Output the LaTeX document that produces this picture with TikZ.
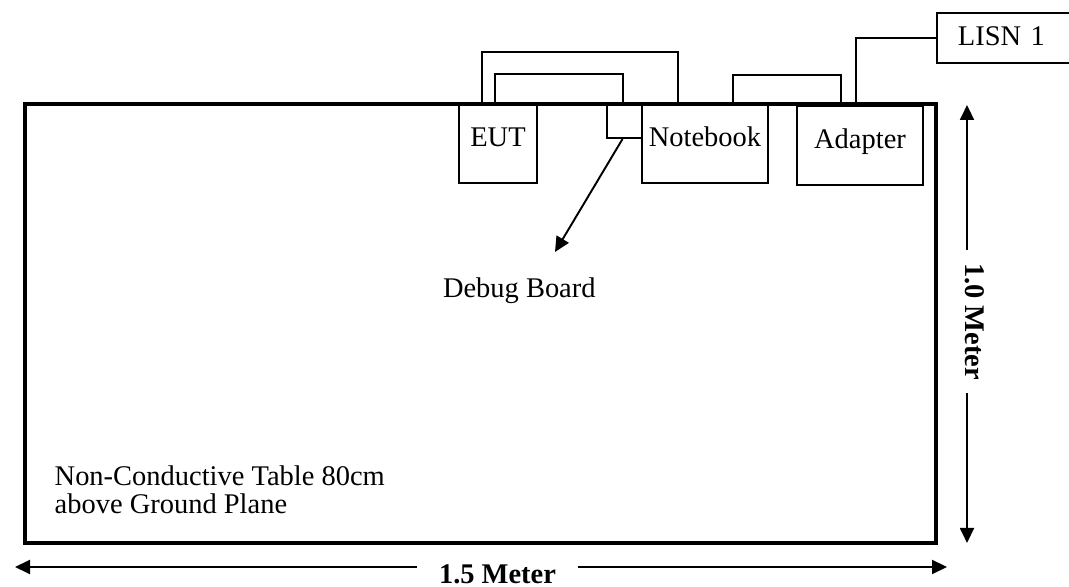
\documentclass[tikz,border=0pt]{standalone}
\usepackage{fontspec}
\setmainfont{Liberation Serif}
\usetikzlibrary{arrows.meta,positioning}

\begin{document}
\begin{tikzpicture}[
  box/.style={draw, line width=0.55pt, inner sep=0pt, text height=6pt, text depth=4pt,
    font=\fontsize{8.1}{7.7}\selectfont},
  cable/.style={line width=0.55pt},
  dimline/.style={line width=0.55pt, -{Triangle[length=1.5mm,width=1.4mm]}},
  dimlabel/.style={inner ysep=0pt, font=\fontsize{8.1}{7.7}\selectfont\bfseries}
]
  \useasboundingbox (0,0) rectangle (10.69,5.87);

  % Table
  \draw[line width=1.1pt] (0.25,0.44) rectangle (9.36,4.83);
  \node[anchor=north west, align=left, inner sep=0pt, font=\fontsize{8.1}{7.7}\selectfont]
    (table) at (0.54,1.215) {Non-Conductive Table 80cm\\above Ground Plane};

  % Units on the table
  \node[box, minimum width=0.78cm, minimum height=0.79cm] (eut) at (4.98,4.435) {EUT};
  \node[box, minimum width=0.35cm, minimum height=0.33cm] (debug) at (6.245,4.665) {};
  \node[box, minimum width=1.26cm, minimum height=0.79cm] (note) at (7.05,4.435) {Notebook};
  \node[box, minimum width=1.26cm, minimum height=0.79cm] (adapter) at (8.60,4.415) {Adapter};
  \node[box, anchor=west, minimum height=0.50cm, text width=1.10cm, align=left,
    inner xsep=0.21cm, text height=6pt, text depth=2pt] (lisn) at (9.36,5.49) {LISN 1};

  % Cables
  \draw[cable] ([xshift=-0.16cm]eut.north) |- (5.80,5.35) -| ([xshift=-0.27cm]note.north);
  \draw[cable] ([xshift=-0.03cm]eut.north) |- (5.60,5.13) -| ([xshift=-0.015cm]debug.north);
  \draw[cable] ([xshift=0.28cm]note.north) |- (7.90,5.12) -| ([xshift=-0.19cm]adapter.north);
  \draw[cable] ([xshift=-0.04cm]adapter.north) |- (lisn.west);

  % Debug board pointer
  \coordinate (dbgtip) at (5.55,3.35);
  \draw[dimline] ([xshift=-0.02cm]debug.south) -- (dbgtip);
  \node[anchor=base east, font=\fontsize{8.1}{7.7}\selectfont] (dbglbl) at (6.08,2.89) {Debug Board};

  % Dimensions
  \node[dimlabel, rotate=-90, inner xsep=0.125cm] (height) at (9.75,2.655) {1.0 Meter};
  \coordinate (htop) at (9.67,4.82);
  \coordinate (hbot) at (9.67,0.44);
  \draw[dimline] (htop |- height.west) -- (htop);
  \draw[dimline] (hbot |- height.east) -- (hbot);

  \node[dimlabel, inner xsep=0.21cm] (width) at (4.975,0.125) {1.5 Meter};
  \coordinate (wleft) at (0.15,0.20);
  \coordinate (wright) at (9.47,0.20);
  \draw[dimline] (width.west |- wleft) -- (wleft);
  \draw[dimline] (width.east |- wright) -- (wright);
\end{tikzpicture}
\end{document}
